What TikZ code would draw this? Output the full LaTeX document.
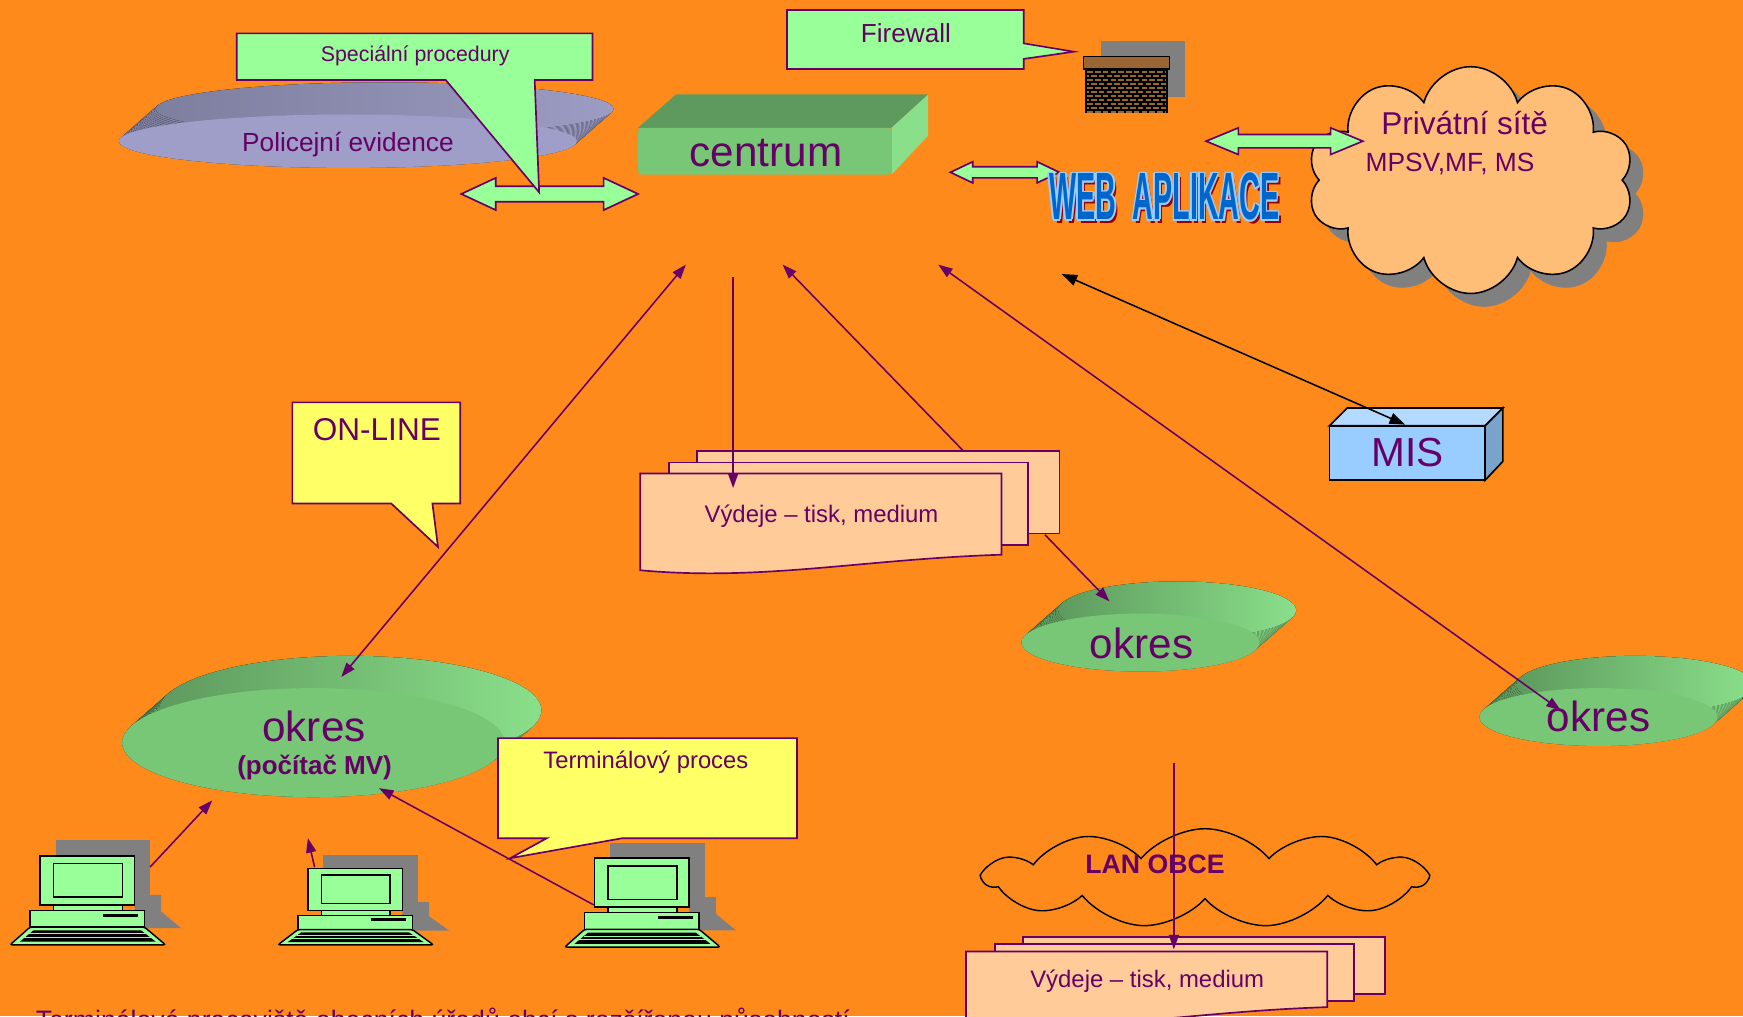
\documentclass[tikz,border=0pt]{standalone}
\usepackage{fontspec}
\setmainfont{Liberation Sans}
\usetikzlibrary{arrows.meta,shapes.symbols}
\definecolor{bg}{HTML}{FF8A1C}
\definecolor{vio}{HTML}{660066}
\definecolor{lgreen}{HTML}{99FF99}
\definecolor{lyellow}{HTML}{FFFF66}
\definecolor{peach}{HTML}{FFCC99}
\definecolor{cloudfill}{HTML}{FFBE78}
\definecolor{shadowgray}{HTML}{808080}
\definecolor{gfront}{HTML}{77C777}
\definecolor{gtop}{HTML}{5E9A5E}
\definecolor{gside}{HTML}{8ADF8A}
\definecolor{pfront}{HTML}{9E9EC8}
\definecolor{ptop}{HTML}{7E7E9E}
\definecolor{pside}{HTML}{9C9CC4}
\definecolor{misfront}{HTML}{99CCFF}
\definecolor{mistop}{HTML}{B5DAFF}
\definecolor{misside}{HTML}{7AA3CC}
\definecolor{brick}{HTML}{996633}
\definecolor{webblue}{HTML}{0066CC}
\definecolor{weblight}{HTML}{99CCFF}
\definecolor{webred}{HTML}{990000}
% flat disc seen from above: centre x, centre y, x radius, y radius, back, rim, front
\newcommand{\disc}[7]{%
  \foreach \k in {0,...,24}
    \fill[left color=#5, middle color=#5, right color=#6] ({#1+33*\k/24},{#2-29*\k/24}) ellipse ({#3} and {#4});
  \fill[#7] (#1,#2) ellipse ({#3} and {#4});}
% green double block arrow: left x, right x, y, half shaft, half head, head length
\newcommand{\dblarrow}[6]{%
  \path[blockarrow] (#1,#3) -- ({#1+#6},{#3-#5}) -- ({#1+#6},{#3-#4}) -- ({#2-#6},{#3-#4}) -- ({#2-#6},{#3-#5}) -- (#2,#3)
    -- ({#2-#6},{#3+#5}) -- ({#2-#6},{#3+#4}) -- ({#1+#6},{#3+#4}) -- ({#1+#6},{#3+#5}) -- cycle;}
% stack of three pages: name, x, y, page height, step, text
\newcommand{\docstack}[6]{%
  \path[page] ({#2+51},{#3-2*#5}) rectangle ({#2+377},{#3-2*#5+#4+1});
  \path[page] ({#2+26},{#3-#5}) rectangle ({#2+349},{#3-#5+#4+1});
  \path[page] (#2,#3) -- ({#2+325},#3) -- ({#2+325},{#3+#4}) .. controls ({#2+200},{#3+#4+4}) and ({#2+110},{#3+#4+24}) .. (#2,{#3+#4+14}) -- cycle;
  \node[txt=21.5] (#1) at ({#2+163},{#3+#4/2+7.5}) {#6};}
\newcommand{\webtext}{\resizebox{207pt}{42pt}{\bfseries WEB\hspace{0.3em}\ APLIKACE}}
\tikzset{
  txt/.style={text=vio, inner sep=0pt, anchor=base, font=\fontsize{#1}{#1}\selectfont},
  callout/.style={draw=vio, line width=1.5pt, fill=#1},
  blockarrow/.style={draw=vio, line width=1.5pt, fill=lgreen},
  link/.style={draw=vio, line width=1.4pt},
  page/.style={draw=vio, line width=1.5pt, fill=peach},
  pcpart/.style={draw=black, line width=1.3pt, fill=lgreen},
  pics/pc/.style={code={
    \fill[shadowgray] (41,-94) rectangle (126,-45);
    \fill[shadowgray] (112,-45) -- (136,-45) -- (136,-30) -- (154,-15) -- (112,-15) -- cycle;
    \path[pcpart] (27,-80) rectangle (112,-36);
    \path[pcpart] (39,-73) rectangle (101,-43);
    \path[pcpart] (39,-36) rectangle (101,-31);
    \path[pcpart] (18,-31) rectangle (121,-16);
    \fill[black] (84,-28) rectangle (115,-25);
    \path[pcpart, rounded corners=2pt] (18,-16) -- (121,-16) -- (140,0) -- (0,0) -- cycle;
    \fill[black] (21,-13) -- (118,-13) -- (131,-3) -- (9,-3) -- cycle;
    \draw[lgreen, line width=0.8pt] (17,-10) -- (123,-10) (13,-6.5) -- (127,-6.5);
  }}
}
\begin{document}
\begin{tikzpicture}[x=1pt, y=-1pt, >={Triangle[length=13pt,width=9pt]}]
  \useasboundingbox (0,0) rectangle (1568,914);
  \fill[bg] (0,0) rectangle (1568,914);

  % top row
  \disc{313}{127}{206}{24}{ptop}{pside}{pfront}
  \node[txt=23.6] (polev) at (313,136.5) {Policejní evidence};
  \fill[gtop] (574,115) -- (608,85) -- (835,85) -- (802,115) -- cycle;
  \fill[gside] (802,115) -- (835,85) -- (835,122) -- (802,157) -- cycle;
  \fill[gfront, rounded corners=3pt] (574,115) rectangle (802,157);
  \node[txt=38] (centrum) at (689,150) {centrum};
  \dblarrow{415}{574}{174.5}{7}{14.5}{31}
  \path[callout=lgreen] (213,30) -- (533,30) -- (533,72) -- (481,72) -- (485,173) -- (401,72) -- (213,72) -- cycle;
  \node[txt=19.2] (spec) at (373.5,55.5) {Speciální procedury};
  \path[callout=lgreen] (708,9) -- (921,9) -- (921,39) -- (966,46.5) -- (921,53) -- (921,62) -- (708,62) -- cycle;
  \node[txt=23.5] (firewall) at (815,38.4) {Firewall};
  \fill[shadowgray] (990,37) rectangle (1066,87);
  \fill[black] (976,62) rectangle (1051,102);
  \foreach \r [evaluate=\r as \ph using {mod(\r,2)*3.5}] in {0,...,10}
    \draw[brick, line width=1.6pt, dash pattern=on 5pt off 2pt, dash phase=\ph pt] (978,{64.5+3.6*\r}) -- (1049,{64.5+3.6*\r});
  \draw[fill=brick, line width=1.2pt] (975,51) rectangle (1052,62);

  % private networks
  \node[cloud, cloud puffs=10, cloud ignores aspect, minimum width=294pt, minimum height=204pt, fill=shadowgray] at (1335,174) {};
  \node[cloud, cloud puffs=10, cloud ignores aspect, minimum width=294pt, minimum height=204pt, fill=cloudfill, draw=black, line width=1.4pt] (privcloud) at (1323,162) {};
  \node[txt=28.4] (privat) at (1317.6,121) {Privátní sítě};
  \node[txt=23.7] (mpsv) at (1304.4,154) {MPSV,MF, MS};
  \dblarrow{855}{953}{155}{5}{9.5}{20}
  \dblarrow{1085}{1226}{127}{6}{12}{29}
  \node[text=webred, inner sep=0pt] at (1050,180) {\webtext};
  \foreach \dx/\dy in {-1.5/0,1.5/0,0/-1.5,0/1.5,-1.1/-1.1,1.1/-1.1,-1.1/1.1,1.1/1.1}
    \node[text=weblight, inner sep=0pt] at ({1047.5+\dx},{177+\dy}) {\webtext};
  \node[text=webblue, inner sep=0pt] (web) at (1047.5,177) {\webtext};

  % districts
  \disc{282}{668}{172}{49}{gtop}{gside}{gfront}
  \node[txt=38] (okresA) at (282.5,667) {okres};
  \node[txt=23.4] (pocitac) at (283,697) {\bfseries (počítač MV)};
  \disc{1026}{578}{107}{26}{gtop}{gside}{gfront}
  \node[txt=38] (okresB) at (1027,592) {okres};
  \disc{1438}{645}{107}{26}{gtop}{gside}{gfront}
  \node[txt=38] (okresC) at (1438,658) {okres};

  % outputs
  \docstack{vydA}{576}{426}{73}{10}{Výdeje – tisk, medium}
  \docstack{vydB}{869}{856}{50}{6.5}{Výdeje – tisk, medium}

  % MIS
  \path[draw=black, fill=mistop, line width=1.5pt] (1196,383) -- (1212,367) -- (1352,367) -- (1336,383) -- cycle;
  \path[draw=black, fill=misside, line width=1.5pt] (1336,383) -- (1352,367) -- (1352,415) -- (1336,432) -- cycle;
  \path[draw=black, fill=misfront, line width=1.5pt] (1196,383) rectangle (1336,432);
  \node[txt=36.5] (mis) at (1266.5,419.8) {MIS};

  % callouts
  \path[callout=lyellow] (263,362) -- (414,362) -- (414,453) -- (389,453) -- (394,492) -- (352,453) -- (263,453) -- cycle;
  \node[txt=28.4] (online) at (339,396.4) {ON-LINE};
  \path[callout=lyellow] (448,664) -- (717,664) -- (717,754) -- (560,754) -- (459,772) -- (492,754) -- (448,754) -- cycle;
  \node[txt=21.4] (terminal) at (581,691) {Terminálový proces};

  % LAN
  \node[cloud, cloud puffs=11, cloud puff arc=100, cloud ignores aspect, minimum width=397pt, minimum height=89pt, draw=black, line width=1.3pt] (lancloud) at (1084,790) {};
  \node[txt=24] (lan) at (1039,785.6) {\bfseries LAN OBCE};

  % terminals
  \pic at (9,850) {pc};
  \pic[yscale=0.86] at (250,850) {pc};
  \pic at (508,852) {pc};

  % connections
  \coordinate (cenA) at (617,238);
  \coordinate (cenB) at (659.5,249);
  \coordinate (cenC) at (704,238);
  \coordinate (cenD) at (844,238);
  \coordinate (webin) at (955,246.5);
  \coordinate (okresAin) at (307,609);
  \coordinate (vydAin) at (659.5,439);
  \coordinate (vydAback) at (867,406);
  \coordinate (vydAside) at (940,481);
  \coordinate (okresBin) at (998,541);
  \coordinate (okresCin) at (1404,639);
  \coordinate (misin) at (1264,382);
  \coordinate (lanin) at (1056,686);
  \coordinate (vydBin) at (1056,854);
  \coordinate (pcAout) at (135,780);
  \coordinate (pcBout) at (283,780);
  \coordinate (pcCout) at (534,814);
  \coordinate (okresAa) at (191,720);
  \coordinate (okresAb) at (277,754);
  \coordinate (okresAc) at (341,709);
  \draw[link, <->] (okresAin) -- (cenA);
  \draw[link, ->] (cenB) -- (vydAin);
  \draw[link, ->] (vydAback) -- (cenC);
  \draw[link, ->] (vydAside) -- (okresBin);
  \draw[link, <->] (okresCin) -- (cenD);
  \draw[link, <->, draw=black, >={Triangle[length=14pt,width=10pt]}] (misin) -- (webin);
  \draw[link, ->] (lanin) -- (vydBin);
  \draw[link, ->] (pcAout) -- (okresAa);
  \draw[link, ->] (pcBout) -- (okresAb);
  \draw[link, ->] (pcCout) -- (okresAc);

  \node[txt=24, anchor=base west] (bottom) at (32,926) {Terminálová pracoviště obecních úřadů obcí s rozšířenou působností};
\end{tikzpicture}
\end{document}
